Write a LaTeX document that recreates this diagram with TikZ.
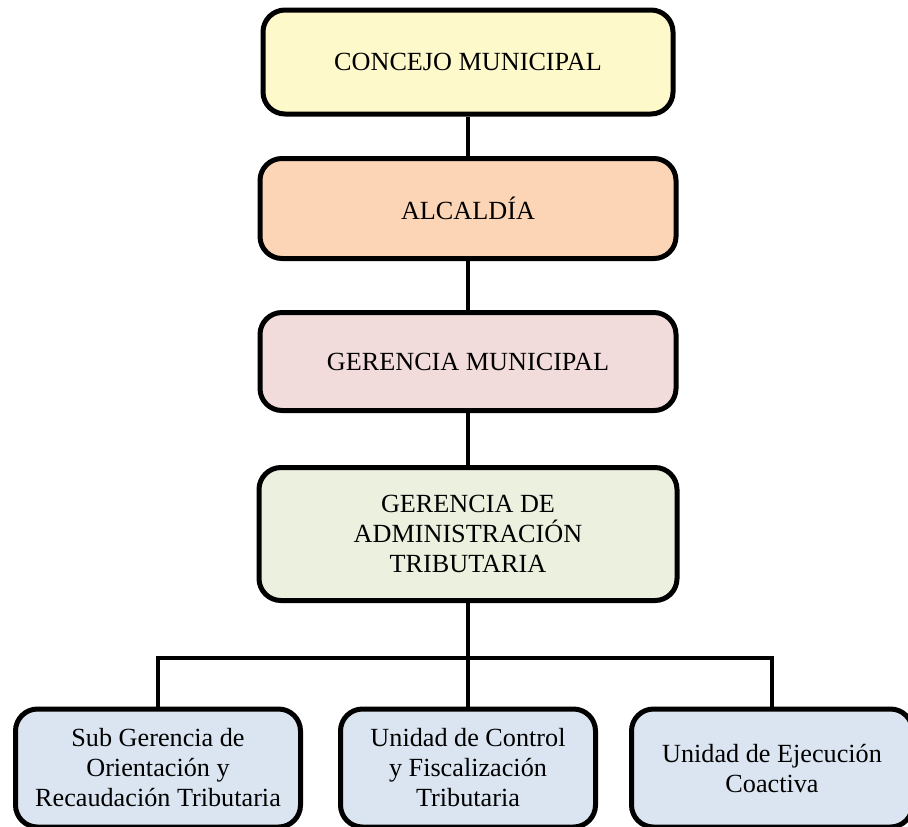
\documentclass[tikz,border=0pt]{standalone}
\usepackage{fontspec}
\setmainfont{Liberation Serif}
\usepackage{tikz}
\definecolor{amarillo}{HTML}{FEF9CB}
\definecolor{durazno}{HTML}{FBD5B5}
\definecolor{rosa}{HTML}{F2DCDB}
\definecolor{verde}{HTML}{EBF1DE}
\definecolor{celeste}{HTML}{DBE5F1}

\begin{document}
\begin{tikzpicture}[x=0.5pt,y=-0.5pt,
    caja/.style={draw, rounded corners=11pt, line width=2.5pt, align=center,
                 inner sep=0pt, font=\fontsize{13.1}{15}\selectfont},
    linea/.style={line width=1.75pt}]
  \useasboundingbox (0,0) rectangle (908,826);
  			\node[caja, fill=amarillo, minimum width=205pt, minimum height=52pt]   (cm) at (468,62)    {CONCEJO MUNICIPAL};
  			\node[caja, fill=durazno, minimum width=208pt, minimum height=50pt]    (al) at (468,208.5) {ALCALD\'IA};
  			\node[caja, fill=rosa, minimum width=208pt, minimum height=49pt]       (gm) at (468,361.5) {GERENCIA MUNICIPAL};
  			\node[caja, fill=verde, minimum width=209pt, minimum height=66.5pt]    (ga) at (468,534)   {GERENCIA DE\\ADMINISTRACI\'ON\\TRIBUTARIA};
  			\node[caja, fill=celeste, minimum width=142.5pt, minimum height=59pt]  (sg) at (158,768)   {Sub Gerencia de\\Orientaci\'on y\\Recaudaci\'on Tributaria};
  			\node[caja, fill=celeste, minimum width=127.5pt, minimum height=59pt]  (uc) at (468,768)   {Unidad de Control\\y Fiscalizaci\'on\\Tributaria};
  			\node[caja, fill=celeste, minimum width=140.5pt, minimum height=59pt]  (ue) at (772,768)   {Unidad de Ejecuci\'on\\Coactiva};
  			\coordinate (j) at (468,658);

  			\draw[linea]
  					(cm) edge (al)
  					(al) edge (gm)
  					(gm) edge (ga)
  					(ga) edge (j);
  			\draw[linea] (sg.north) |- (j) -| (ue.north);
  			\draw[linea] (uc.north) -- (j);
\end{tikzpicture}
\end{document}
